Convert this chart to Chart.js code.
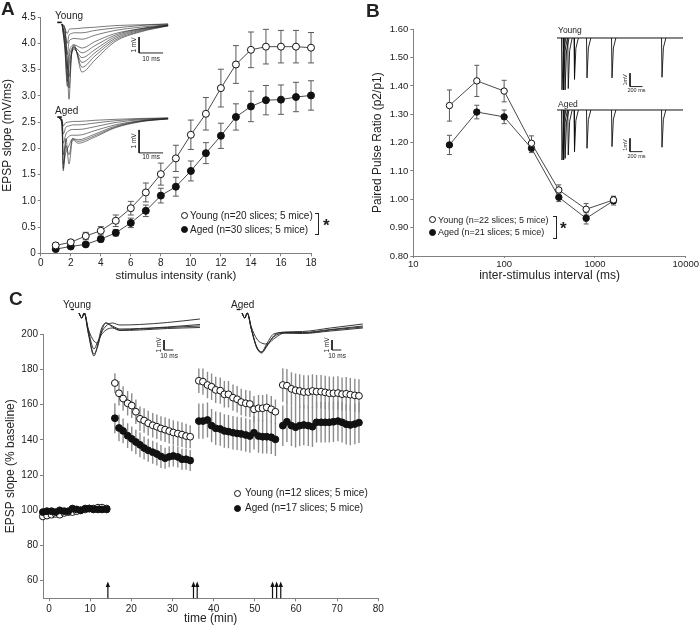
<!DOCTYPE html>
<html lang="en">
<head>
<meta charset="UTF-8">
<title>EPSP slope, paired pulse ratio and LTP - young vs aged</title>
<script src="https://cdn.jsdelivr.net/npm/chart.js@4.4.1/dist/chart.umd.min.js"></script>
<style>
  body { margin: 0; background: #fff; }
  #fig { position: relative; width: 700px; height: 626px; overflow: hidden;
         font-family: "Liberation Sans", Arial, Helvetica, sans-serif; color: #222; }
  #fig canvas { position: absolute; }
  .t { position: absolute; white-space: nowrap; line-height: 1; }
  .letter { font-weight: bold; font-size: 19px; }
  .sym { position: absolute; width: 5px; height: 5px; border: 1px solid #111; border-radius: 50%; background: #fff; }
  .sym.filled { background: #111; }
  .bracket { position: absolute; border: 1.5px solid #222; border-left: none; }
  .star { font-weight: bold; font-size: 17px; }
</style>
</head>
<body>
<div id="fig">
  <canvas id="chartA" width="320" height="292" style="left:0;top:0"></canvas>
  <canvas id="chartB" width="350" height="292" style="left:350px;top:0"></canvas>
  <canvas id="chartC" width="420" height="346" style="left:0;top:280px"></canvas>

  <div class="t letter" style="left:1px;top:-1px">A</div>
  <div class="t letter" style="left:366px;top:1px">B</div>
  <div class="t letter" style="left:9px;top:289px">C</div>

  <!-- inset titles -->
  <div class="t" style="left:55px;top:11px;font-size:10px">Young</div>
  <div class="t" style="left:55px;top:106px;font-size:10px">Aged</div>
  <div class="t" style="left:558px;top:26px;font-size:8.5px">Young</div>
  <div class="t" style="left:558px;top:100px;font-size:8.5px">Aged</div>
  <div class="t" style="left:63px;top:300px;font-size:10px">Young</div>
  <div class="t" style="left:231px;top:300px;font-size:10px">Aged</div>

  <!-- legend A -->
  <div class="sym" style="left:181px;top:212px"></div>
  <div class="t" style="left:190px;top:211px;font-size:10px">Young (n=20 slices; 5 mice)</div>
  <div class="sym filled" style="left:181px;top:226px"></div>
  <div class="t" style="left:190px;top:225px;font-size:10px">Aged (n=30 slices; 5 mice)</div>
  <div class="bracket" style="left:315px;top:213px;width:3px;height:20px"></div>
  <div class="t star" style="left:323px;top:217px">*</div>

  <!-- legend B -->
  <div class="sym" style="left:429px;top:216px"></div>
  <div class="t" style="left:438px;top:215.5px;font-size:9px">Young (n=22 slices; 5 mice)</div>
  <div class="sym filled" style="left:429px;top:229px"></div>
  <div class="t" style="left:438px;top:228px;font-size:9px">Aged (n=21 slices; 5 mice)</div>
  <div class="bracket" style="left:553px;top:216px;width:3px;height:21px"></div>
  <div class="t star" style="left:560px;top:220px">*</div>

  <!-- legend C -->
  <div class="sym" style="left:234px;top:489.5px"></div>
  <div class="t" style="left:245px;top:488px;font-size:10px">Young (n=12 slices; 5 mice)</div>
  <div class="sym filled" style="left:234px;top:504.5px"></div>
  <div class="t" style="left:245px;top:503px;font-size:10px">Aged (n=17 slices; 5 mice)</div>
</div>

<script>
// ---- panel A: input/output curve ----
const rankA = [1, 2, 3, 4, 5, 6, 7, 8, 9, 10, 11, 12, 13, 14, 15, 16, 17, 18];
const rankTicks = [0, 2, 4, 6, 8, 10, 12, 14, 16, 18];
const slopeTicksA = [0, 0.5, 1, 1.5, 2, 2.5, 3, 3.5, 4, 4.5];
const youngA = [0.15, 0.21, 0.33, 0.43, 0.62, 0.86, 1.16, 1.51, 1.81, 2.26, 2.66, 3.15, 3.60, 3.88, 3.94, 3.94, 3.94, 3.92];
const youngAErr = [0.04, 0.04, 0.07, 0.08, 0.11, 0.13, 0.18, 0.21, 0.25, 0.28, 0.31, 0.36, 0.36, 0.34, 0.33, 0.31, 0.31, 0.29];
const agedA = [0.08, 0.13, 0.17, 0.27, 0.39, 0.58, 0.81, 1.10, 1.27, 1.57, 1.91, 2.24, 2.60, 2.80, 2.92, 2.93, 2.98, 3.01];
const agedAErr = [0.02, 0.03, 0.03, 0.05, 0.06, 0.09, 0.11, 0.14, 0.18, 0.19, 0.20, 0.24, 0.25, 0.29, 0.28, 0.28, 0.28, 0.28];

// ---- panel B: paired pulse ratio ----
const isiB = [25, 50, 100, 200, 400, 800, 1600];
const isiTicks = [10, 100, 1000, 10000];
const pprTicks = [0.8, 0.9, 1.0, 1.1, 1.2, 1.3, 1.4, 1.5, 1.6];
const youngB = [1.331, 1.418, 1.382, 1.198, 1.033, 0.965, 0.998];
const youngBErr = [0.055, 0.055, 0.038, 0.026, 0.018, 0.020, 0.013];
const agedB = [1.192, 1.308, 1.291, 1.180, 1.007, 0.933, 0.995];
const agedBErr = [0.034, 0.024, 0.024, 0.015, 0.015, 0.020, 0.015];

// ---- panel C: LTP time course ----
const timeC = [
  -1.5, -0.5, 0.6, 1.6, 2.6, 3.7, 4.7, 5.7, 6.7, 7.7, 8.8, 9.8, 10.8, 11.9, 12.9, 14.0,
  16.0, 17.0, 18.0, 19.1, 20.1, 21.1, 22.1, 23.1, 24.1, 25.2, 26.2, 27.2, 28.2, 29.2, 30.2, 31.3, 32.3, 33.3, 34.3,
  36.4, 37.4, 38.5, 39.5, 40.5, 41.6, 42.6, 43.6, 44.7, 45.7, 46.7, 47.8, 48.8, 49.8, 50.9, 51.9, 52.9, 54.0, 55.0,
  56.8, 57.8, 58.9, 59.9, 60.9, 61.9, 63.0, 64.0, 65.0, 66.1, 67.1, 68.1, 69.1, 70.2, 71.2, 72.2, 73.2, 74.3, 75.3];
const youngC = [
  96.5, 97, 97.5, 98, 97.5, 98.5, 99, 99, 99.5, 100, 100.5, 101, 101, 101.5, 101.5, 101,
  172.3, 166.5, 163.5, 160.8, 159.5, 156, 152, 151, 149.5, 148.3, 147.5, 146.5, 145.8, 145, 144.2, 143.6, 143, 142.2, 141.8,
  173.6, 173.1, 171.2, 170.2, 168.4, 168.0, 165.9, 165.9, 164.0, 163.1, 161.5, 160.8, 160.4, 157.4, 158.0, 158.0, 158.5, 157.4, 156.0,
  171.2, 170.8, 169.0, 168.2, 167.8, 167.2, 167.2, 167.8, 167.4, 167.4, 167.0, 166.5, 166.5, 166.6, 166.0, 166.2, 165.7, 165.3, 165.0];
const youngCErr = [
  1.2, 1.2, 1.2, 1.2, 1.2, 1.2, 1.2, 1.2, 1.2, 1.2, 1.2, 1.2, 1.2, 1.2, 1.2, 1.2,
  5.5, 7, 7, 7, 7, 7, 7, 7, 7, 7, 7, 7, 7, 7, 7, 7, 7, 7, 6.5,
  7, 7.5, 7.5, 7.5, 7.5, 7.5, 7.5, 7.5, 7.5, 7.5, 7.5, 7.5, 7.5, 7.5, 7.5, 7.5, 7.5, 7.5, 7,
  9.5, 9.5, 9.5, 9.5, 9.5, 9.5, 9.5, 9.5, 9.5, 9.5, 9.5, 9.5, 9.5, 9.5, 9.5, 9.5, 9.5, 9.5, 9.5];
const agedC = [
  99, 99.5, 99.5, 99, 100, 99.5, 99.5, 101, 100.5, 100, 101, 101, 100.5, 100.5, 100.5, 100.5,
  152.3, 146.8, 145.1, 142.4, 140.6, 138.8, 137.2, 135.4, 134.1, 133, 132, 130.6, 129.6, 130.4, 130.9, 130.3, 129, 129, 128.3,
  150.7, 150.7, 151.3, 148.1, 146.6, 146.2, 145.1, 144.7, 144.1, 143.7, 143.4, 142.8, 142.2, 144.1, 142.2, 141.8, 141.8, 141.5, 140.3,
  148.1, 150.3, 148.1, 147.2, 148.1, 148.5, 148.1, 147.5, 150.0, 150.0, 150.0, 150.0, 150.3, 150.7, 150.0, 148.9, 148.5, 149.0, 149.8];
const agedCErr = [
  1.2, 1.2, 1.2, 1.2, 1.2, 1.2, 1.2, 1.2, 1.2, 1.2, 1.2, 1.2, 1.2, 1.2, 1.2, 1.2,
  8.5, 7.5, 7, 7, 7, 7, 7, 6.5, 6.5, 6.5, 6.5, 6.5, 6, 6, 6, 6, 6, 6, 6,
  10, 10, 10, 9.5, 9.5, 9.5, 9.5, 9.5, 9.5, 9.5, 9.5, 9.5, 9.5, 9.5, 9.5, 9.5, 9.5, 9.5, 9.5,
  11.5, 11.5, 11.5, 11.5, 11.5, 11.5, 11.5, 11.5, 11.5, 11.5, 11.5, 11.5, 11.5, 11.5, 11.5, 11.5, 11.5, 11.5, 11.5];
const timeTicksC = [0, 10, 20, 30, 40, 50, 60, 70, 80];
const slopeTicksC = [60, 80, 100, 120, 140, 160, 180, 200];
const tetanusTimes = [14.3, 35.1, 36.0, 54.3, 55.3, 56.3];

// ---- example traces (ms, mV) ----
const tYoungA = [2.1, 3.3, 4.3, 5.0, 6.0, 7.1, 10.4, 15.8, 24.2, 34.6, 46.3];
const tracesYoungA = [
  [0, -0.3, -2.5, -4.7, -2.0, -1.3, -3.0, -2.25, -1.1, -0.5, -0.12],
  [0, -0.3, -2.2, -4.0, -2.0, -1.4, -2.7, -2.0, -1.0, -0.45, -0.1],
  [0, -1.0, -3.2, -3.3, -1.9, -1.5, -2.4, -1.8, -0.9, -0.4, -0.1],
  [0, -1.6, -3.9, -2.2, -1.6, -1.45, -1.8, -1.35, -0.7, -0.3, -0.08],
  [0, -1.5, -3.6, -2.6, -1.8, -1.6, -2.1, -1.6, -0.8, -0.35, -0.1],
  [0, -1.3, -2.8, -1.8, -1.4, -1.3, -1.5, -1.1, -0.6, -0.3, -0.05],
  [0, -0.9, -1.9, -1.1, -0.95, -0.9, -0.95, -0.7, -0.4, -0.2, -0.05],
  [0, -0.6, -1.2, -0.7, -0.6, -0.55, -0.55, -0.4, -0.25, -0.1, 0],
  [0, -0.3, -0.6, -0.35, -0.3, -0.3, -0.25, -0.2, -0.1, -0.05, 0]];
const tAgedA = [1.0, 2.1, 2.6, 3.7, 5.0, 6.5, 8.75, 15.8, 24.2, 34.6, 46.3];
const tracesAgedA = [
  [0, -0.3, -2.3, -0.9, -2.0, -0.95, -1.1, -0.83, -0.43, -0.17, -0.04],
  [0, -0.3, -2.2, -1.2, -1.6, -0.9, -1.02, -0.77, -0.4, -0.15, -0.04],
  [0, -0.3, -2.0, -1.5, -1.2, -0.9, -0.95, -0.7, -0.36, -0.14, -0.03],
  [0, -0.2, -1.6, -1.0, -0.8, -0.75, -0.75, -0.55, -0.3, -0.12, -0.03],
  [0, -0.15, -1.1, -0.7, -0.55, -0.5, -0.5, -0.38, -0.2, -0.08, -0.02],
  [0, -0.1, -0.7, -0.4, -0.35, -0.3, -0.3, -0.22, -0.12, -0.05, 0],
  [0, -0.05, -0.35, -0.2, -0.18, -0.15, -0.15, -0.1, -0.06, -0.02, 0]];

// paired pulse sweeps: first pulse at 0, second pulse at each interval
const pulseTimesB = [0, 25, 50, 100, 200, 400, 800, 1600];
const pulseDepthYoungB = [-3.9, -3.9, -3.9, -3.8, -3.1, -3.0, -3.0, -2.95];
const pulseDepthAgedB = [-3.76, -3.76, -3.64, -3.38, -3.13, -2.88, -2.75, -2.8];
const sweepSpanB = [-72, 1944];

const tYoungC = [0, 2.9, 5.7, 10, 16.1, 20, 24, 29, 36, 44, 65, 95, 130];
const tracesYoungC = [
  [0, -0.5, 0, -2.0, -4.3, -3.2, -1.6, -1.0, -1.4, -1.7, -1.6, -1.45, -1.3],
  [0, -0.5, 0, -2.0, -4.1, -3.4, -1.9, -1.0, -1.3, -1.6, -1.55, -1.4, -1.15],
  [0, -0.5, 0, -1.6, -2.8, -3.0, -2.0, -1.3, -1.0, -1.2, -1.15, -0.95, -0.6],
  [0, -0.5, 0, -1.7, -3.6, -2.9, -2.2, -1.7, -1.5, -1.75, -1.7, -1.55, -1.45]];
const tAgedC = [0, 2.9, 5.7, 10, 16, 21, 27, 34, 46, 65, 95, 130];
const tracesAgedC = [
  [0, -0.5, 0, -1.6, -3.5, -4.0, -3.3, -2.3, -1.9, -1.85, -1.5, -1.1],
  [0, -0.5, 0, -1.6, -3.4, -3.9, -3.0, -2.1, -1.95, -1.95, -1.65, -1.3],
  [0, -0.5, 0, -1.4, -2.6, -3.0, -3.1, -2.6, -2.0, -2.0, -1.7, -1.4],
  [0, -0.5, 0, -1.6, -3.5, -3.9, -3.2, -2.4, -2.0, -2.05, -1.8, -1.5]];

Chart.defaults.font.family = '"Liberation Sans", Arial, Helvetica, sans-serif';
Chart.defaults.color = '#222';
Chart.defaults.animation = false;
Chart.defaults.responsive = false;
Chart.defaults.plugins.legend.display = false;
Chart.defaults.plugins.tooltip.enabled = false;

// vertical error bars from dataset.errors, drawn under the markers
const errorBars = {
  id: 'errorBars',
  beforeDatasetsDraw(chart, args, opts) {
    const ctx = chart.ctx, y = chart.scales.y;
    chart.data.datasets.forEach((ds, i) => {
      if (!ds.errors) return;
      const pts = chart.getDatasetMeta(i).data;
      ctx.save();
      ctx.strokeStyle = opts.color;
      ctx.lineWidth = opts.width;
      ctx.beginPath();
      pts.forEach((p, j) => {
        const v = ds.data[j].y, e = ds.errors[j];
        const y1 = y.getPixelForValue(v + e), y2 = y.getPixelForValue(v - e);
        ctx.moveTo(p.x, y1); ctx.lineTo(p.x, y2);
        if (opts.cap) {
          ctx.moveTo(p.x - opts.cap, y1); ctx.lineTo(p.x + opts.cap, y1);
          ctx.moveTo(p.x - opts.cap, y2); ctx.lineTo(p.x + opts.cap, y2);
        }
      });
      ctx.stroke();
      ctx.restore();
    });
  }
};

// stimulation arrows on the time axis of panel C
const arrows = {
  id: 'arrows',
  afterDatasetsDraw(chart, args, opts) {
    const {ctx, scales: {x, y}} = chart;
    const yb = y.getPixelForValue(y.min), yt = y.getPixelForValue(opts.tip);
    ctx.save();
    ctx.strokeStyle = '#111'; ctx.fillStyle = '#111'; ctx.lineWidth = 1.2;
    opts.times.forEach(t => {
      const px = x.getPixelForValue(t);
      ctx.beginPath(); ctx.moveTo(px, yb); ctx.lineTo(px, yt + 4); ctx.stroke();
      ctx.beginPath(); ctx.moveTo(px, yt); ctx.lineTo(px - 2.2, yt + 5.5); ctx.lineTo(px + 2.2, yt + 5.5);
      ctx.closePath(); ctx.fill();
    });
    ctx.restore();
  }
};

// small text (scale bar labels) placed in data units
const insetText = {
  id: 'insetText',
  afterDraw(chart, args, opts) {
    const {ctx, scales: {x, y}} = chart;
    (opts.items || []).forEach(it => {
      ctx.save();
      ctx.font = it.size + 'px "Liberation Sans", Arial, sans-serif';
      ctx.fillStyle = '#222';
      ctx.textAlign = 'center';
      ctx.textBaseline = 'middle';
      ctx.translate(x.getPixelForValue(it.x), y.getPixelForValue(it.y));
      if (it.rotate) ctx.rotate(-Math.PI / 2);
      ctx.fillText(it.text, 0, 0);
      ctx.restore();
    });
  }
};

function axis(o) {
  return {
    type: o.type || 'linear',
    min: o.min, max: o.max,
    border: {display: true, color: '#808080', width: 1},
    grid: {drawOnChartArea: false, drawTicks: true, tickLength: o.tickLen || 3, color: '#808080'},
    ticks: {font: {size: o.tickSize || 10}, color: '#222', padding: o.tickPad != null ? o.tickPad : 2,
            maxRotation: 0, autoSkip: false, callback: o.fmt},
    title: {display: true, text: o.title, font: {size: o.titleSize || 12}, color: '#222', padding: o.titlePad || {top: 0, bottom: 2}},
    afterBuildTicks: a => { a.ticks = o.ticks.map(v => ({value: v})); },
    afterFit: s => {
      if (o.width != null) s.width = o.width;
      if (o.height != null) s.height = o.height;
    }
  };
}

function series(label, xs, ys, errs, filled, r, line) {
  return {
    label: label,
    data: xs.map((x, i) => ({x: x, y: ys[i]})),
    errors: errs,
    showLine: line,
    borderColor: '#4a4a4a',
    borderWidth: 1,
    pointRadius: r, pointHoverRadius: r,
    pointBorderWidth: 1,
    pointBorderColor: '#111',
    pointBackgroundColor: filled ? '#111' : '#fff',
    clip: false
  };
}

// panel A  (canvas 292 high, plot bottom stays at 253.3)
new Chart(document.getElementById('chartA'), {
  type: 'scatter',
  data: {datasets: [
    series('Young', rankA, youngA, youngAErr, false, 3.5, true),
    series('Aged', rankA, agedA, agedAErr, true, 3.5, true)
  ]},
  options: {
    layout: {padding: {left: 0, top: 17.3, right: 9, bottom: 0}},
    scales: {
      x: axis({min: 0, max: 18, ticks: rankTicks, title: 'stimulus intensity (rank)', titleSize: 11.5,
               height: 38.7, tickPad: 1, titlePad: {top: 0, bottom: 9.6}}),
      y: axis({min: 0, max: 4.5, ticks: slopeTicksA, title: 'EPSP slope (mV/ms)', width: 40.7,
               fmt: v => v === 0 ? '0' : v.toFixed(1)})
    },
    plugins: {errorBars: {color: '#5a5a5a', width: 1, cap: 3}}
  },
  plugins: [errorBars]
});

// panel B
new Chart(document.getElementById('chartB'), {
  type: 'scatter',
  data: {datasets: [
    series('Young', isiB, youngB, youngBErr, false, 3.2, true),
    series('Aged', isiB, agedB, agedBErr, true, 3.2, true)
  ]},
  options: {
    layout: {padding: {left: 20, top: 29.3, right: 13.3, bottom: 0}},
    scales: {
      x: axis({type: 'logarithmic', min: 10, max: 10000, ticks: isiTicks, title: 'inter-stimulus interval (ms)',
               height: 36, tickLen: 2, tickPad: 1, titlePad: {top: 0, bottom: 9.3}, tickSize: 9.5, fmt: v => String(v)}),
      y: axis({min: 0.8, max: 1.6, ticks: pprTicks, title: 'Paired Pulse Ratio (p2/p1)', width: 43.3, tickSize: 9.5,
               fmt: v => v.toFixed(2)})
    },
    plugins: {errorBars: {color: '#5a5a5a', width: 1, cap: 2.5}}
  },
  plugins: [errorBars]
});

// panel C
new Chart(document.getElementById('chartC'), {
  type: 'scatter',
  data: {datasets: [
    series('Aged', timeC, agedC, agedCErr, true, 3.4, false),
    series('Young', timeC, youngC, youngCErr, false, 3.4, false)
  ]},
  options: {
    layout: {padding: {left: 3, top: 54.3, right: 41.7, bottom: 0}},
    scales: {
      x: axis({min: -1.46, max: 80, ticks: timeTicksC, title: 'time (min)', height: 27.7, tickPad: 1.5,
               titlePad: {top: 0, bottom: 0.5}}),
      y: axis({min: 50, max: 200, ticks: slopeTicksC, title: 'EPSP slope (% baseline)', width: 40})
    },
    plugins: {
      errorBars: {color: '#8c8c8c', width: 1.4, cap: 0},
      arrows: {times: tetanusTimes, tip: 59.5}
    }
  },
  plugins: [errorBars, arrows]
});

// ---- insets with example sweeps ----
function traceSet(times, rows, width) {
  return rows.map(r => ({
    data: times.map((t, i) => ({x: t, y: r[i]})),
    showLine: true, pointRadius: 0, borderColor: '#222', borderWidth: width,
    cubicInterpolationMode: 'monotone', clip: false
  }));
}
function lineSet(points, width) {
  return {data: points.map(p => ({x: p[0], y: p[1]})), showLine: true, pointRadius: 0,
          borderColor: '#111', borderWidth: width, clip: false};
}
function scaleBar(x, top, ms, mv) {
  return lineSet([[x, top], [x, top - mv], [x + ms, top - mv]], 0.9);
}
function inset(box, xr, yr, datasets, texts) {
  const cv = document.createElement('canvas');
  cv.width = box[2]; cv.height = box[3];
  cv.style.left = box[0] + 'px'; cv.style.top = box[1] + 'px';
  document.getElementById('fig').appendChild(cv);
  new Chart(cv, {
    type: 'scatter',
    data: {datasets: datasets},
    options: {
      layout: {padding: 0},
      scales: {
        x: {type: 'linear', display: false, min: xr[0], max: xr[1]},
        y: {type: 'linear', display: false, min: yr[0], max: yr[1]}
      },
      plugins: {insetText: {items: texts}}
    },
    plugins: [insetText]
  });
}
function pulses(times, depths) {
  const sets = [lineSet([[sweepSpanB[0], 0], [sweepSpanB[1], 0]], 1)];
  times.forEach((t, i) => {
    sets.push(lineSet([[t, 0], [t + 8, depths[i]], [t + 30, depths[i] * 0.25], [t + 70, 0]], 0.9));
  });
  return sets;
}

// A, young
inset([55, 10, 122, 95], [-0.83, 50], [-5.06, 0.875],
  traceSet(tYoungA, tracesYoungA, 0.6)
    .concat([lineSet([[0.1, 0.1], [2.0, 0.1]], 1.6), scaleBar(34.2, -0.81, 10, 1)]),
  [{x: 32.0, y: -1.31, text: '1 mV', size: 6.5, rotate: true}, {x: 39.2, y: -2.2, text: '10 ms', size: 6.5}]);
// A, aged
inset([55, 105, 122, 75], [-0.83, 50], [-2.7, 0.565],
  traceSet(tAgedA, tracesAgedA, 0.6)
    .concat([lineSet([[0.1, 0.04], [2.0, 0.04]], 1.6), scaleBar(34.2, -0.52, 10, 1)]),
  [{x: 32.0, y: -1.0, text: '1 mV', size: 6.5, rotate: true}, {x: 39.2, y: -1.72, text: '10 ms', size: 6.5}]);
// B, young
inset([552, 32, 135, 62], [-152, 2008], [-4.21, 0.451],
  pulses(pulseTimesB, pulseDepthYoungB).concat([scaleBar(1096, -2.65, 200, 1)]),
  [{x: 1030, y: -3.15, text: '1mV', size: 5.5, rotate: true}, {x: 1200, y: -3.98, text: '200 ms', size: 5.5}]);
// B, aged
inset([552, 104, 135, 62], [-152, 2008], [-4.21, 0.451],
  pulses(pulseTimesB, pulseDepthAgedB).concat([scaleBar(1096, -2.13, 200, 1)]),
  [{x: 1030, y: -2.63, text: '1mV', size: 5.5, rotate: true}, {x: 1200, y: -3.46, text: '200 ms', size: 5.5}]);
// C, young
inset([60, 296, 147, 64], [-20.4, 137.6], [-4.7, 1.7],
  traceSet(tYoungC, tracesYoungC, 0.9)
    .concat([lineSet([[-8.9, 0.35], [-5.4, 0.35]], 1.3), scaleBar(91.4, -2.7, 10, 1)]),
  [{x: 86, y: -3.2, text: '1 mV', size: 6.5, rotate: true}, {x: 96.8, y: -4.3, text: '10 ms', size: 6.5}]);
// C, aged
inset([225, 296, 147, 64], [-18.3, 139.8], [-4.7, 1.7],
  traceSet(tAgedC, tracesAgedC, 0.9)
    .concat([lineSet([[-5.7, 0.35], [-2.2, 0.35]], 1.3), scaleBar(96.8, -2.7, 10, 1)]),
  [{x: 91.4, y: -3.2, text: '1 mV', size: 6.5, rotate: true}, {x: 102.2, y: -4.3, text: '10 ms', size: 6.5}]);
</script>
</body>
</html>
